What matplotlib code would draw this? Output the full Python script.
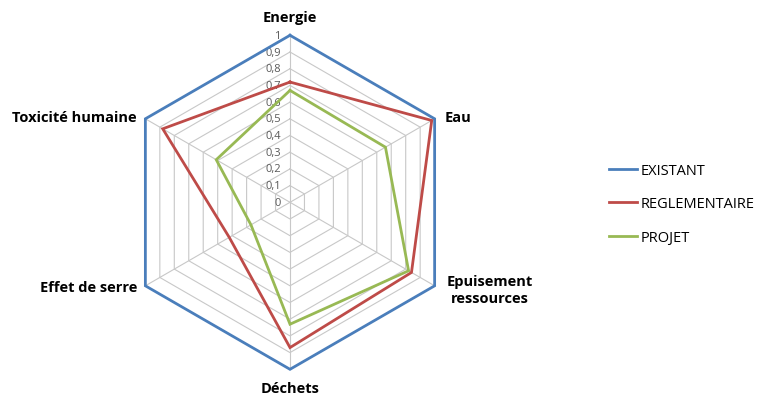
import numpy as np
import matplotlib.pyplot as plt

categories = ["Energie", "Eau", "Epuisement\nressources", "Déchets", "Effet de serre", "Toxicité humaine"]
existant = [1, 1, 1, 1, 1, 1]
reglementaire = [0.72, 0.98, 0.84, 0.87, 0.42, 0.88]
projet = [0.67, 0.66, 0.82, 0.73, 0.27, 0.51]
ticks = [0, 0.1, 0.2, 0.3, 0.4, 0.5, 0.6, 0.7, 0.8, 0.9, 1]
tick_labels = ["0", "0,1", "0,2", "0,3", "0,4", "0,5", "0,6", "0,7", "0,8", "0,9", "1"]

plt.rcParams['font.family'] = ['Open Sans', 'DejaVu Sans']

W, H = 758, 402
fig = plt.figure(figsize=(W / 100, H / 100), dpi=100)
R = 167.0
cx, cy = 290.0, H - 203.3
half_w, half_h = 200.0, 196.0
ax = fig.add_axes([(cx - half_w) / W, (cy - half_h) / H, 2 * half_w / W, 2 * half_h / H])
ax.set_xlim(-half_w / R, half_w / R)
ax.set_ylim(-half_h / R, half_h / R)
ax.axis("off")

n = len(categories)
ang = np.pi / 2 - np.arange(n) * 2 * np.pi / n
ca, sa = np.cos(ang), np.sin(ang)


def closed(vals):
    v = np.asarray(vals, dtype=float)
    x = v * ca
    y = v * sa
    return np.append(x, x[0]), np.append(y, y[0])


grid_col = "#c8c8c8"
for t in ticks[1:]:
    gx, gy = closed([t] * n)
    ax.plot(gx, gy, color=grid_col, lw=0.8, zorder=1)
for i in range(n):
    ax.plot([0, ca[i]], [0, sa[i]], color=grid_col, lw=0.8, zorder=1)

for t, lab in zip(ticks, tick_labels):
    ax.text(-0.055, t, lab, ha="right", va="center", fontsize=8, color="#595959", zorder=2)

series = [("EXISTANT", existant, "#4a7ebb"),
          ("REGLEMENTAIRE", reglementaire, "#be4b48"),
          ("PROJET", projet, "#98b954")]
handles = []
for name, vals, col in series:
    sx, sy = closed(vals)
    h, = ax.plot(sx, sy, color=col, lw=2.0, label=name, zorder=3, solid_joinstyle="miter")
    handles.append(h)

lab_kw = dict(fontsize=10.5, fontweight="bold", color="#000000")
ax.text(0, 1.07, categories[0], ha="center", va="bottom", **lab_kw)
ax.text(ca[1] + 0.06, sa[1] + 0.01, categories[1], ha="left", va="center", **lab_kw)
ax.text(ca[2] + 0.33, sa[2] - 0.02, categories[2], ha="center", va="center", linespacing=1.25, **lab_kw)
ax.text(0, -1.07, categories[3], ha="center", va="top", **lab_kw)
ax.text(ca[4] - 0.05, sa[4] - 0.01, categories[4], ha="right", va="center", **lab_kw)
ax.text(ca[5] - 0.05, sa[5] + 0.01, categories[5], ha="right", va="center", **lab_kw)

fig.legend(handles=handles, loc="center left", bbox_to_anchor=(603 / W, 1 - 205 / H),
           frameon=False, fontsize=10.5, handlelength=1.9, handletextpad=0.25,
           labelspacing=1.25, borderaxespad=0)

fig.savefig("out.png", dpi=100)
